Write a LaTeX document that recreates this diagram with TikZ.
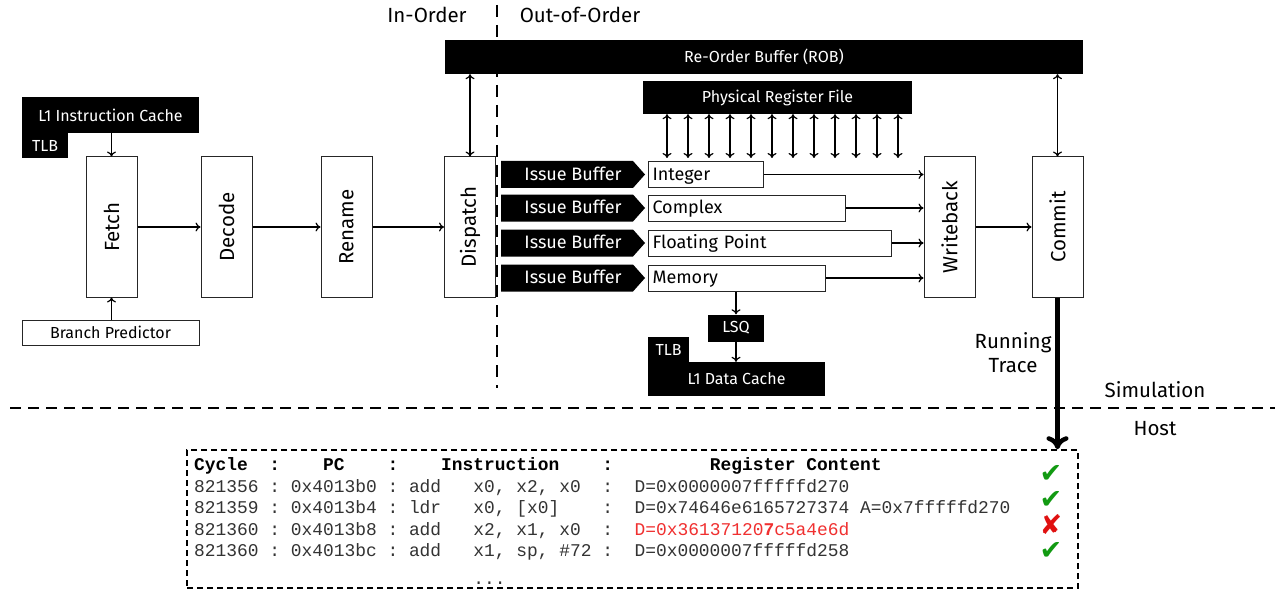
\documentclass[tikz,border=0pt]{standalone}
\usepackage{fontspec}
\setmainfont{Fira Sans}
\setmonofont{Liberation Mono}
\newfontfamily\symfont{DejaVu Sans}
\usetikzlibrary{arrows.meta}

\definecolor{okgreen}{HTML}{129A12}
\definecolor{badred}{HTML}{E01010}
\definecolor{tracered}{HTML}{F03030}

\newcommand\fsBig{\fontsize{20.5}{24}\selectfont}
\newcommand\fsMid{\fontsize{18}{21}\selectfont}
\newcommand\fsSmall{\fontsize{16}{19}\selectfont}
\newcommand\fsTT{\fontsize{17.9}{21}\selectfont}

\tikzset{
  stage/.style={draw=black!85, line width=1pt, fill=white, minimum width=51pt,
    minimum height=140pt, inner sep=0pt, font=\fsBig},
  blk/.style={fill=black, text=white, inner sep=0pt, font=\fsSmall},
  plainbox/.style={draw=black!85, line width=1pt, fill=white, inner sep=0pt, font=\fsSmall},
  unit/.style={draw=black!85, line width=1pt, anchor=west, inner xsep=4pt,
    inner ysep=0pt, minimum height=26pt, align=left, font=\fsMid,
    text height=14pt, text depth=3pt},
  issue/.style={minimum width=144pt, minimum height=27pt, inner sep=0pt,
    text=white, font=\fsMid, text height=14pt, text depth=3pt,
    path picture={\fill[black] (path picture bounding box.north west)
      -- ([xshift=-12pt]path picture bounding box.north east)
      -- (path picture bounding box.east)
      -- ([xshift=-12pt]path picture bounding box.south east)
      -- (path picture bounding box.south west) -- cycle;}},
  arr/.style={line width=1.2pt, -{To[length=5pt,width=9pt]}},
  darr/.style={line width=1.2pt, {To[length=5pt,width=9pt]}-{To[length=5pt,width=9pt]}},
  trace/.style={line width=4.5pt, -{To[length=13pt,width=22pt]}},
  region/.style={line width=2pt, dash pattern=on 12pt off 8pt},
  hostbox/.style={draw, line width=1.5pt, dash pattern=on 6pt off 4pt},
  caption/.style={font=\fsBig, inner sep=0pt},
  row/.style={anchor=base west, inner sep=0pt, font=\ttfamily\fsTT, text=black!80},
  verdict/.style={font=\symfont\fontsize{27}{27}\selectfont, inner sep=0pt,
    text height=20pt, text depth=0pt}
}

\begin{document}
\begin{tikzpicture}[x=1pt, y=-1pt]
\useasboundingbox (0,0) rectangle (1283,591);
\fill[white] (0,0) rectangle (1283,591);

% region labels and separators
\node[caption] (inord) at (427,15) {In-Order};
\node[caption] (ooo) at (580,15) {Out-of-Order};
\draw[region] (497,5) -- (497,388);
\draw[line width=2pt, dash pattern=on 11pt off 7pt] (10,408) -- (1275,408);
\node[caption] (sim) at (1155,390) {Simulation};
\node[caption] (host) at (1155,429) {Host};

% front end
\node[blk, minimum width=177pt, minimum height=36pt] (l1i) at (110.5,115) {L1 Instruction Cache};
\node[blk, minimum width=46pt, minimum height=25pt] (itlb) at (45,145.5) {TLB};
\node[plainbox, minimum width=177pt, minimum height=25pt] (bp) at (110.5,332.5) {Branch Predictor};

\node[stage] (fetch) at (111.5,227) {\rotatebox{90}{Fetch}};
\node[stage] (decode) at (226.5,227) {\rotatebox{90}{Decode}};
\node[stage] (rename) at (346.5,227) {\rotatebox{90}{Rename}};
\node[stage] (dispatch) at (470,227) {\rotatebox{90}{Dispatch}};
\node[stage] (wb) at (949.5,227) {\rotatebox{90}{Writeback}};
\node[stage] (commit) at (1057.5,227) {\rotatebox{90}{Commit}};

\draw[arr] (fetch.north |- l1i.south) -- (fetch.north);
\draw[arr] (fetch.south |- bp.north) -- (fetch.south);
\draw[arr] (fetch.east) -- (decode.west);
\draw[arr] (decode.east) -- (rename.west);
\draw[arr] (rename.east) -- (dispatch.west);
\draw[arr] (wb.east) -- (commit.west);

% re-order buffer and register file
\node[blk, minimum width=638pt, minimum height=34pt] (rob) at (764,57) {Re-Order Buffer (ROB)};
\node[blk, minimum width=269pt, minimum height=33pt] (prf) at (777.5,97.5) {Physical Register File};
\draw[darr] (dispatch.north |- rob.south) -- (dispatch.north);
\draw[darr] (commit.north |- rob.south) -- (commit.north);
\foreach \i in {0,...,11} {
  \coordinate (port\i) at ({667+21*\i},158);
  \draw[darr] (prf.south -| port\i) -- (port\i);
}

% issue buffers and functional units
\node[issue] (ib1) at (573,174.5) {Issue Buffer};
\node[issue] (ib2) at (573,208) {Issue Buffer};
\node[issue] (ib3) at (573,243) {Issue Buffer};
\node[issue] (ib4) at (573,278) {Issue Buffer};

\node[unit, text width=107pt] (int) at (648,174.5) {Integer};
\node[unit, text width=189pt] (cplx) at (648,208) {Complex};
\node[unit, text width=235pt] (fp) at (648,243) {Floating Point};
\node[unit, text width=169pt] (mem) at (648,278) {Memory};

\draw[arr] (int.east) -- (int.east -| wb.west);
\draw[arr] (cplx.east) -- (cplx.east -| wb.west);
\draw[arr] (fp.east) -- (fp.east -| wb.west);
\draw[arr] (mem.east) -- (mem.east -| wb.west);

% memory path
\node[blk, minimum width=56pt, minimum height=27pt] (lsq) at (736,328) {LSQ};
\node[blk, minimum width=177pt, minimum height=34pt] (l1d) at (736.5,379) {L1 Data Cache};
\node[blk, minimum width=41pt, minimum height=25pt] (dtlb) at (668.5,349.5) {TLB};
\draw[arr] (lsq.north |- mem.south) -- (lsq.north);
\draw[arr] (lsq.south) -- (lsq.south |- l1d.north);

% trace to host
\node[caption, align=center] (runtr) at (1013,353) {Running\\Trace};
\node[hostbox, minimum width=891pt, minimum height=138pt, inner sep=0pt] (tbl) at (632.5,519) {};
\draw[trace] (commit.south) -- (commit.south |- tbl.north);

\node[row, text=black, font=\ttfamily\bfseries\fsTT] (hdr) at (194,470)
  {Cycle~~:~~~~PC~~~~:~~~~Instruction~~~~:~~~~~~~~~Register~Content};
\node[row] (r1) at (194,492)
  {821356~:~0x4013b0~:~add~~~x0,~x2,~x0~~:~~D=0x0000007fffffd270};
\node[row] (r2) at (194,513)
  {821359~:~0x4013b4~:~ldr~~~x0,~[x0]~~~~:~~D=0x74646e6165727374~A=0x7fffffd270};
\node[row] (r3) at (194,535)
  {821360~:~0x4013b8~:~add~~~x2,~x1,~x0~~:~~\textcolor{tracered}{D=0x36137120\textbf{7}c5a4e6d}};
\node[row] (r4) at (194,556)
  {821360~:~0x4013bc~:~add~~~x1,~sp,~\#72~:~~D=0x0000007fffffd258};
\node[row] (r5) at (194,584)
  {~~~~~~~~~~~~~~~~~~~~~~~~~~...};

\node[verdict, text=okgreen] (ok1) at (1051,472) {✔};
\node[verdict, text=okgreen] (ok2) at (1051,498) {✔};
\node[verdict, text=badred] (bad3) at (1051,524) {✘};
\node[verdict, text=okgreen] (ok4) at (1051,549) {✔};
\end{tikzpicture}
\end{document}
